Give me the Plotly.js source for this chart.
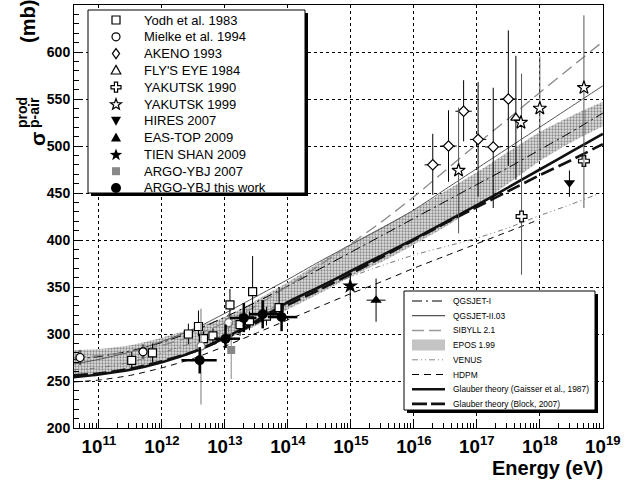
<!DOCTYPE html>
<html><head><meta charset="utf-8">
<script src="https://cdn.plot.ly/plotly-3.0.1.min.js"></script>
<style>html,body{margin:0;padding:0;background:#fff;} #chart{width:640px;height:481px;}</style>
</head><body><div id="chart"></div>
<script>
// ---------- model curves (log10 E in eV, sigma in mb) ----------
const modelLogE = [10.6, 11, 11.5, 12, 12.5, 13, 13.5, 14, 14.5, 15, 15.5, 16, 16.5, 17, 17.5, 18, 18.5, 19];
const qgsjet1  = [273, 276, 282, 291, 303, 318, 334, 351, 369, 387, 405, 423, 441, 459, 477, 496, 515, 535];
const qgsjet2  = [268, 273, 281, 292, 305, 322, 340, 358, 377, 395, 413, 432, 454, 476, 498, 520, 542, 564];
const sibyll   = [275, 277, 281, 288, 298, 312, 330, 351, 373, 396, 420, 446, 474, 502, 529, 557, 584, 611];
const eposLo   = [256, 258, 263, 271, 281, 294, 309, 326, 343, 361, 377, 395, 414, 436, 460, 484, 504, 521];
const eposHi   = [283, 284, 288, 296, 306, 318, 336, 355, 376, 396, 414, 432, 452, 472, 494, 515, 532, 547];
const venus    = [262, 264, 270, 280, 291, 305, 320, 335, 348, 361, 373, 384, 393, 402, 413, 426, 438, 451];
const hdpm     = [249, 251, 256, 264, 274, 287, 301, 315, 329, 343, 356, 370, 383, 396, 409, 422];
const gaisser  = [254, 257, 262, 270, 281, 296, 314, 334, 350, 367, 384, 401, 419, 437, 456, 475, 494, 513];
const block    = [256, 258, 263, 271, 281, 295, 312, 331, 347, 364, 382, 400, 418, 435, 452, 469, 485, 502];
const modelNames = ['QGSJET-I', 'QGSJET-II.03', 'SIBYLL 2.1', 'EPOS 1.99', 'VENUS', 'HDPM',
                    'Glauber theory (Gaisser et al., 1987)', 'Glauber theory (Block, 2007)'];

// ---------- measurements ----------
const yodhLogE = [11.52, 11.85, 12.42, 12.58, 12.66, 12.81, 13.08, 13.24, 13.39, 13.44, 13.66, 13.86];
const yodhMb   = [272, 280, 300, 308, 295, 298, 331, 310, 314, 345, 319, 328];
const yodhUp   = [9, 10, 11, 17, 8, 8, 17, 12, 10, 38, 10, 22];
const yodhDn   = [9, 10, 11, 10, 8, 8, 16, 12, 10, 25, 10, 13];

const mielkeLogE = [10.70, 11.70];
const mielkeMb   = [275, 281];
const mielkeErr  = [8, 8];
const mielke2LogE = [12.62, 13.06];
const mielke2Mb   = [287, 312];
const mielke2Up   = [40, 10];
const mielke2Dn   = [62, 10];

const akenoLogE = [16.30, 16.55, 16.79, 17.02, 17.26, 17.50];
const akenoMb   = [480, 500, 537, 507, 499, 550];
const akenoUp   = [33, 38, 33, 61, 63, 73];
const akenoDn   = [32, 38, 32, 61, 65, 71];
const akenoDLogE = 0.13;

const flyLogE = [17.62], flyMb = [530], flyUp = [66], flyDn = [66];
const yak90LogE = [17.71, 18.70], yak90Mb = [425, 484], yak90Up = [152, 0], yak90Dn = [62, 0];
const yak99LogE = [16.71, 17.70, 18.00, 18.70], yak99Mb = [474, 525, 540, 562], yak99Up = [67, 0, 55, 77], yak99Dn = [67, 0, 55, 128];
const hiresLogE = [18.47], hiresMb = [461], hiresUp = [13], hiresDn = [15];
const eastopLogE = [15.40], eastopMb = [336], eastopUp = [23], eastopDn = [23], eastopDLogE = 0.15;
const tienLogE = [14.99], tienMb = [351], tienUp = [14], tienDn = [15];
const argo07LogE = [13.10], argo07Mb = [283], argo07Up = [30], argo07Dn = [31];
const argoLogE = [12.60, 13.01, 13.30, 13.60, 13.90];
const argoMb   = [272, 295, 317, 321, 318];
const argoUp   = [14, 15, 16, 15, 14];
const argoDn   = [14, 10, 15, 15, 15];
const argoLoLogE = [12.31, 12.83, 13.08, 13.38, 13.68];
const argoHiLogE = [12.87, 13.24, 13.50, 13.85, 14.15];
const dataNames = ['Yodh et al. 1983', 'Mielke et al. 1994', 'AKENO 1993', "FLY'S EYE 1984", 'YAKUTSK 1990',
                   'YAKUTSK 1999', 'HIRES 2007', 'EAS-TOP 2009', 'TIEN SHAN 2009', 'ARGO-YBJ 2007', 'ARGO-YBJ this work'];

// ---------- helpers ----------
const P = v => Math.pow(10, v);
const X = px => (px - 74) / 529;   // pixel -> paper
const Y = py => (428 - py) / 423;
const FONT = 'Liberation Sans, Arial, Helvetica, sans-serif';

function model(name, y, line, extra) {
  return Object.assign({
    type: 'scatter', mode: 'lines', name: name, showlegend: false,
    x: modelLogE.slice(0, y.length).map(P), y: y,
    line: Object.assign({shape: 'spline', smoothing: 0.6}, line), hoverinfo: 'skip'
  }, extra || {});
}

function pts(name, lx, y, up, dn, marker, opt) {
  opt = opt || {};
  const t = {
    type: 'scatter', mode: 'markers', name: name, showlegend: false,
    x: lx.map(P), y: y, marker: marker,
    error_y: {type: 'data', symmetric: false, array: up, arrayminus: dn,
              thickness: opt.eth || 1, width: 0, color: opt.ecol || '#000'},
    hoverinfo: 'skip'
  };
  if (opt.xlo) {
    t.error_x = {type: 'data', symmetric: false,
      array: lx.map((v, i) => P(opt.xhi[i]) - P(v)),
      arrayminus: lx.map((v, i) => P(v) - P(opt.xlo[i])),
      thickness: opt.eth || 1, width: 0, color: opt.ecol || '#000'};
  }
  return t;
}
const openM = (sym, size) => ({symbol: sym, size: size, color: '#fff', line: {color: '#000', width: 1.2}});
const fillM = (sym, size, col) => ({symbol: sym, size: size, color: col || '#000', line: {color: col || '#000', width: 0}});

const traces = [];
traces.push(model('EPOS lo', eposLo, {width: 0, color: 'rgba(0,0,0,0)'}));
traces.push(model('EPOS 1.99', eposHi, {width: 0, color: 'rgba(0,0,0,0)'},
  {fill: 'tonexty', fillcolor: 'rgba(170,170,170,0.55)',
   fillpattern: {shape: '.', bgcolor: '#e2e2e2', fgcolor: '#8a8a8a', size: 3, solidity: 0.45}}));
traces.push(model(modelNames[0], qgsjet1, {color: '#000', width: 1, dash: '10px,4px,2px,4px'}));
traces.push(model(modelNames[1], qgsjet2, {color: '#555', width: 1}));
traces.push(model(modelNames[2], sibyll, {color: '#888', width: 1.3, dash: '12px,6px'}));
traces.push(model(modelNames[4], venus, {color: '#777', width: 1, dash: '5px,3px,1px,3px,1px,3px'}));
traces.push(model(modelNames[5], hdpm, {color: '#000', width: 1, dash: '6px,5px'}));
traces.push(model(modelNames[6], gaisser, {color: '#111', width: 2.6}));
traces.push(model(modelNames[7], block, {color: '#111', width: 2.6, dash: '14px,5px'}));

traces.push(pts(dataNames[0], yodhLogE, yodhMb, yodhUp, yodhDn, openM('square', 8)));
traces.push(pts(dataNames[1], mielkeLogE, mielkeMb, mielkeErr, mielkeErr, openM('circle', 8)));
traces.push(pts(dataNames[1], mielke2LogE, mielke2Mb, mielke2Up, mielke2Dn,
  {symbol: 'circle', size: 8, color: '#fff', line: {color: '#777', width: 1.2}}, {ecol: '#777'}));
traces.push(pts(dataNames[2], akenoLogE, akenoMb, akenoUp, akenoDn, openM('diamond', 8),
  {xlo: akenoLogE.map(v => v - akenoDLogE), xhi: akenoLogE.map(v => v + akenoDLogE)}));
traces.push(pts(dataNames[3], flyLogE, flyMb, flyUp, flyDn, openM('triangle-up', 9)));
traces.push(pts(dataNames[4], yak90LogE, yak90Mb, yak90Up, yak90Dn, openM('cross', 9), {ecol: '#555'}));
traces.push(pts(dataNames[5], yak99LogE, yak99Mb, yak99Up, yak99Dn, openM('star', 10), {ecol: '#555'}));
traces.push(pts(dataNames[6], hiresLogE, hiresMb, hiresUp, hiresDn, fillM('triangle-down', 10)));
traces.push(pts(dataNames[7], eastopLogE, eastopMb, eastopUp, eastopDn, fillM('triangle-up', 10),
  {xlo: [eastopLogE[0] - eastopDLogE], xhi: [eastopLogE[0] + eastopDLogE]}));
traces.push(pts(dataNames[8], tienLogE, tienMb, tienUp, tienDn, fillM('star', 12)));
traces.push(pts(dataNames[9], argo07LogE, argo07Mb, argo07Up, argo07Dn, fillM('square', 8, '#888'), {ecol: '#888'}));
traces.push(pts(dataNames[10], argoLogE, argoMb, argoUp, argoDn, fillM('circle', 10),
  {xlo: argoLoLogE, xhi: argoHiLogE, eth: 2.5}));

// ---------- legend decorations (boxes, keys, texts) ----------
const shapes = [];
const annotations = [];
function box(x0, y0, x1, y1) {
  shapes.push({type: 'rect', xref: 'paper', yref: 'paper', x0: X(x0 + 3), x1: X(x1 + 3), y0: Y(y1 + 3), y1: Y(y0 + 3),
               fillcolor: '#000', line: {width: 0}, layer: 'above'});
  shapes.push({type: 'rect', xref: 'paper', yref: 'paper', x0: X(x0), x1: X(x1), y0: Y(y1), y1: Y(y0),
               fillcolor: '#fff', line: {width: 1, color: '#000'}, layer: 'above'});
}
function pathShape(cx, cy, pts, fill, lineCol) {
  const d = pts.map((p, i) => (i ? 'L' : 'M') + X(cx + p[0]).toFixed(5) + ',' + Y(cy + p[1]).toFixed(5)).join(' ') + ' Z';
  shapes.push({type: 'path', xref: 'paper', yref: 'paper', path: d, fillcolor: fill,
               line: {color: lineCol, width: lineCol ? 1.2 : 0}, layer: 'above'});
}
function starPts(ro, ri) {
  const a = [];
  for (let k = 0; k < 10; k++) {
    const r = k % 2 ? ri : ro, t = -Math.PI / 2 + k * Math.PI / 5;
    a.push([r * Math.cos(t), r * Math.sin(t)]);
  }
  return a;
}
const keyShapes = [
  (cx, cy) => pathShape(cx, cy, [[-4, -4], [4, -4], [4, 4], [-4, 4]], '#fff', '#000'),
  (cx, cy) => shapes.push({type: 'circle', xref: 'paper', yref: 'paper', x0: X(cx - 4), x1: X(cx + 4), y0: Y(cy + 4), y1: Y(cy - 4),
                           fillcolor: '#fff', line: {color: '#000', width: 1.2}, layer: 'above'}),
  (cx, cy) => pathShape(cx, cy, [[0, -5], [3.6, 0], [0, 5], [-3.6, 0]], '#fff', '#000'),
  (cx, cy) => pathShape(cx, cy, [[0, -5], [4.8, 3.6], [-4.8, 3.6]], '#fff', '#000'),
  (cx, cy) => pathShape(cx, cy, [[-1.6, -5], [1.6, -5], [1.6, -1.6], [5, -1.6], [5, 1.6], [1.6, 1.6], [1.6, 5], [-1.6, 5],
                                 [-1.6, 1.6], [-5, 1.6], [-5, -1.6], [-1.6, -1.6]], '#fff', '#000'),
  (cx, cy) => pathShape(cx, cy + 0.5, starPts(5.8, 2.4), '#fff', '#000'),
  (cx, cy) => pathShape(cx, cy, [[-5, -4], [5, -4], [0, 5]], '#000', null),
  (cx, cy) => pathShape(cx, cy, [[0, -5], [5, 4], [-5, 4]], '#000', null),
  (cx, cy) => pathShape(cx, cy + 0.5, starPts(6.5, 2.7), '#000', null),
  (cx, cy) => pathShape(cx, cy, [[-4, -4], [4, -4], [4, 4], [-4, 4]], '#888', null),
  (cx, cy) => shapes.push({type: 'circle', xref: 'paper', yref: 'paper', x0: X(cx - 5), x1: X(cx + 5), y0: Y(cy + 5), y1: Y(cy - 5),
                           fillcolor: '#000', line: {width: 0}, layer: 'above'})
];
box(88, 10, 305, 193);
dataNames.forEach((n, i) => {
  const cy = 20 + i * 16.8;
  keyShapes[i](116, cy);
  annotations.push({xref: 'paper', yref: 'paper', x: X(142), y: Y(cy), xanchor: 'left', yanchor: 'middle',
    text: n, showarrow: false, font: {family: FONT, size: 13, color: '#000'}});
});

box(404, 291, 595, 410);
const lineKeys = [
  {color: '#000', width: 1, dash: '10px,4px,2px,4px'},
  {color: '#555', width: 1.2},
  {color: '#999', width: 1.5, dash: '12px,5px'},
  null,
  {color: '#888', width: 1, dash: '6px,3px,1px,3px,1px,3px'},
  {color: '#000', width: 1, dash: '7px,5px'},
  {color: '#111', width: 2.6},
  {color: '#111', width: 2.6, dash: '15px,4px'}
];
modelNames.forEach((n, i) => {
  const cy = 301 + i * 14.7;
  if (lineKeys[i]) {
    shapes.push({type: 'line', xref: 'paper', yref: 'paper', x0: X(412), x1: X(445), y0: Y(cy), y1: Y(cy),
                 line: lineKeys[i], layer: 'above'});
  } else {
    shapes.push({type: 'rect', xref: 'paper', yref: 'paper', x0: X(412), x1: X(445), y0: Y(cy + 5.5), y1: Y(cy - 5.5),
                 fillcolor: '#c4c4c4', line: {width: 0}, layer: 'above'});
  }
  annotations.push({xref: 'paper', yref: 'paper', x: X(451), y: Y(cy), xanchor: 'left', yanchor: 'middle',
    text: n, showarrow: false, font: {family: FONT, size: 8.4, color: '#000'}});
});

// ---------- axis titles ----------
const ann = (text, px, py, size) => ({
  xref: 'paper', yref: 'paper', x: X(px), y: Y(py), text: text, showarrow: false,
  xanchor: 'center', yanchor: 'middle', textangle: -90,
  font: {family: FONT, size: size, color: '#000', weight: 'bold'}
});
annotations.push({xref: 'paper', yref: 'paper', x: X(605), y: Y(468), xanchor: 'right', yanchor: 'middle',
  text: 'Energy (eV)', showarrow: false, font: {family: FONT, size: 20, color: '#000', weight: 'bold'}});
annotations.push(ann('σ', 37, 139, 21));
annotations.push(ann('prod', 22, 113, 14));
annotations.push(ann('p-air', 34, 113, 14));
annotations.push(ann('(mb)', 28, 22, 20));

const layout = {
  width: 640, height: 481,
  margin: {l: 74, r: 37, t: 5, b: 53},
  paper_bgcolor: '#fff', plot_bgcolor: '#fff',
  showlegend: false,
  xaxis: {
    type: 'log', range: [10.604, 19.003], dtick: 1, exponentformat: 'power', showexponent: 'all',
    ticks: 'inside', ticklen: 9, tickwidth: 1, tickcolor: '#000', ticklabelstandoff: 2,
    minor: {dtick: 'D1', ticks: 'inside', ticklen: 5, tickwidth: 1, tickcolor: '#000', showgrid: false},
    showgrid: true, gridcolor: '#000', griddash: 'dot', gridwidth: 1,
    showline: true, linecolor: '#000', linewidth: 1, mirror: true, zeroline: false,
    tickfont: {family: FONT, size: 15, color: '#000', weight: 'bold'}
  },
  yaxis: {
    range: [200, 650], dtick: 50, tick0: 200,
    ticks: 'inside', ticklen: 9, tickwidth: 1, tickcolor: '#000',
    minor: {dtick: 10, ticks: 'inside', ticklen: 5, tickwidth: 1, tickcolor: '#000', showgrid: false},
    showgrid: true, gridcolor: '#000', griddash: 'dot', gridwidth: 1,
    showline: true, linecolor: '#000', linewidth: 1, mirror: true, zeroline: false,
    tickfont: {family: FONT, size: 14, color: '#000', weight: 'bold'}
  },
  shapes: shapes,
  annotations: annotations
};

Plotly.newPlot('chart', traces, layout, {displayModeBar: false, staticPlot: true});
</script></body></html>
